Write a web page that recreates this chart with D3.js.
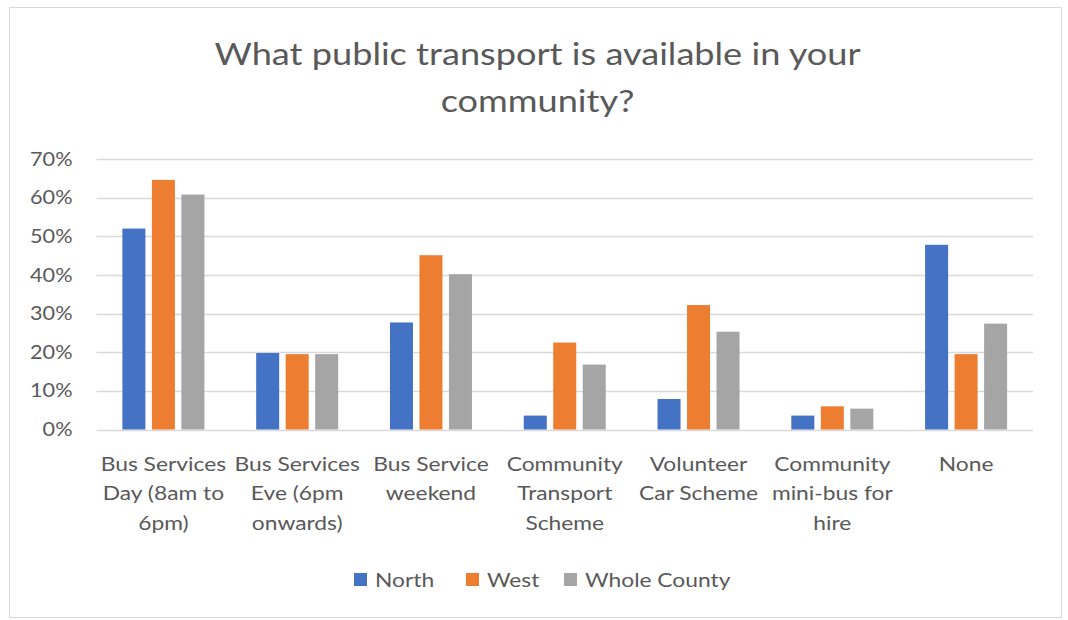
<!DOCTYPE html>
<html>
<head>
<meta charset="utf-8">
<script src="https://cdn.jsdelivr.net/npm/d3@7/dist/d3.min.js"></script>
<style>
  html, body { margin: 0; padding: 0; background: #fff; }
  svg { display: block; }
  text { font-family: Lato, "Open Sans", sans-serif; fill: #595959; }
</style>
</head>
<body>
<svg id="chart" width="1068" height="620"></svg>
<script>
const titleLines = ["What public transport is available in your", "community?"];
const categories = [
  ["Bus Services", "Day (8am to", "6pm)"],
  ["Bus Services", "Eve (6pm", "onwards)"],
  ["Bus Service", "weekend"],
  ["Community", "Transport", "Scheme"],
  ["Volunteer", "Car Scheme"],
  ["Community", "mini-bus for", "hire"],
  ["None"]
];
const seriesNames = ["North", "West", "Whole County"];
const north = [52.0, 19.8, 27.7, 3.6, 7.9, 3.6, 47.8];
const west  = [64.6, 19.5, 45.1, 22.5, 32.2, 6.0, 19.5];
const whole = [60.8, 19.5, 40.2, 16.8, 25.3, 5.4, 27.4];
const colors = ["#4472C4", "#ED7D31", "#A5A5A5"];
const yTicks = [0, 10, 20, 30, 40, 50, 60, 70];

(function () {
const series = [north, west, whole];
const svg = d3.select("#chart");
const SX = 1.14;      // horizontal stretch of labels
const SXT = 1.185;    // horizontal stretch of title

// frame
svg.append("rect").attr("x", 9.5).attr("y", 7.5).attr("width", 1052).attr("height", 610)
  .attr("fill", "#fff").attr("stroke", "#d9d9d9").attr("stroke-width", 1);

// title
svg.append("g").selectAll("text").data(titleLines).join("text")
  .attr("transform", (d, i) => `translate(537.5,${65 + i * 47}) scale(${SXT},1)`)
  .attr("text-anchor", "middle").attr("font-size", 30.5)
  .text(d => d);

const pl = 96.5, pr = 1033, pt = 159, pb = 429.5;
const x0 = d3.scaleBand().domain(d3.range(categories.length)).range([pl, pr]).padding(0);
const x1 = d3.scaleBand().domain(d3.range(series.length)).range([-41, 41]).paddingInner(0.22);
const y = d3.scaleLinear().domain([0, 70]).range([pb, pt]);

// gridlines
svg.append("g").selectAll("line").data(yTicks).join("line")
  .attr("x1", pl).attr("x2", pr)
  .attr("y1", d => Math.round(y(d)) + 0.5).attr("y2", d => Math.round(y(d)) + 0.5)
  .attr("stroke", "#d9d9d9").attr("stroke-width", 1.3);

// y axis labels
const yAxis = d3.axisLeft(y).tickValues(yTicks).tickFormat(d => d + "%").tickSize(0).tickPadding(0);
const ya = svg.append("g").attr("transform", `translate(72.5,0)`).call(yAxis);
ya.select(".domain").remove();
ya.selectAll("text").attr("font-size", 19).attr("font-family", "Lato, sans-serif")
  .attr("fill", "#595959").attr("transform", `scale(${SX},1)`);

// bars
const groups = svg.append("g").selectAll("g").data(categories.map((c, i) => i)).join("g")
  .attr("transform", i => `translate(${x0(i) + x0.bandwidth() / 2},0)`);
groups.selectAll("rect").data(i => series.map((s, k) => ({ k, v: s[i] }))).join("rect")
  .attr("x", d => x1(d.k)).attr("width", x1.bandwidth())
  .attr("y", d => y(d.v)).attr("height", d => y(0) - y(d.v))
  .attr("fill", d => colors[d.k]);

// category labels
const cl = svg.append("g").selectAll("text").data(categories).join("text")
  .attr("text-anchor", "middle").attr("font-size", 20)
  .attr("transform", (d, i) => `translate(${x0(i) + x0.bandwidth() / 2},0) scale(${SX},1)`);
cl.selectAll("tspan").data(d => d).join("tspan")
  .attr("x", 0).attr("y", (d, j) => 471 + j * 29.5).text(d => d);

// legend
const legendX = [354, 466, 564];
const lg = svg.append("g").selectAll("g").data(seriesNames).join("g")
  .attr("transform", (d, i) => `translate(${legendX[i]},573)`);
lg.append("rect").attr("width", 13).attr("height", 13).attr("fill", (d, i) => colors[i]);
lg.append("text").attr("transform", `translate(21,13.5) scale(${SX},1)`).attr("font-size", 20).text(d => d);
})();
</script>
</body>
</html>
